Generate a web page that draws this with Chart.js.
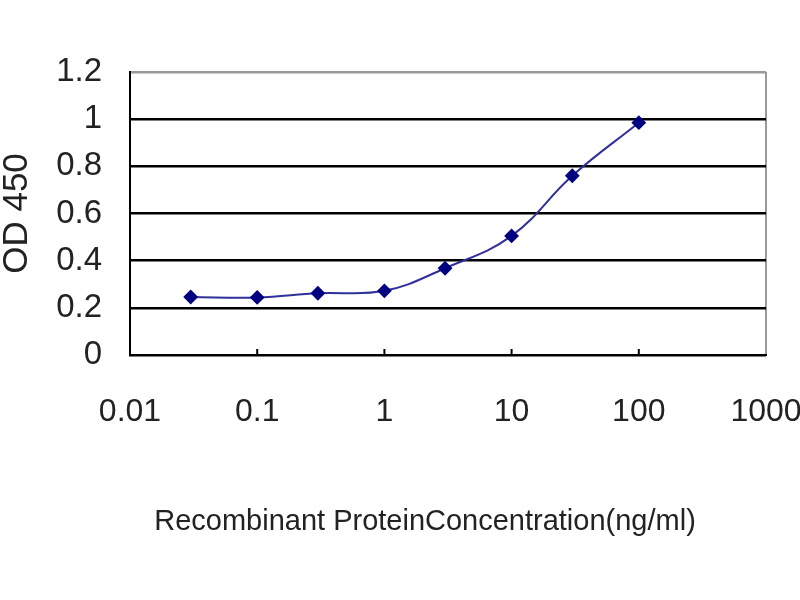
<!DOCTYPE html>
<html>
<head>
<meta charset="utf-8">
<script src="https://cdn.jsdelivr.net/npm/chart.js@4"></script>
<style>
html,body{margin:0;padding:0;background:#fff;}
#wrap{width:800px;height:600px;}
</style>
</head>
<body>
<div id="wrap"><canvas id="c" width="800" height="600"></canvas></div>
<script>
const concentrations = [0.03, 0.1, 0.3, 1, 3, 10, 30, 100];
const odValues = [0.246, 0.244, 0.262, 0.272, 0.368, 0.505, 0.76, 0.985];
const xTickValues = [0.01, 0.1, 1, 10, 100, 1000];
const xTickLabels = ['0.01', '0.1', '1', '10', '100', '1000'];
const yTickValues = [0, 0.2, 0.4, 0.6, 0.8, 1, 1.2];
const yTickLabels = ['0', '0.2', '0.4', '0.6', '0.8', '1', '1.2'];
const xTitle = 'Recombinant ProteinConcentration(ng/ml)';
const yTitle = 'OD 450';

const regular = "'Liberation Sans', Arial, sans-serif";

const extras = {
  id: 'extras',
  afterDraw(chart) {
    const ctx = chart.ctx;
    const xs = chart.scales.x;
    const area = chart.chartArea;
    ctx.save();
    ctx.strokeStyle = '#000';
    ctx.lineWidth = 2;
    xTickValues.forEach(v => {
      if (v <= xs.min || v >= xs.max) return;
      const px = xs.getPixelForValue(v);
      ctx.beginPath();
      ctx.moveTo(px, area.bottom);
      ctx.lineTo(px, area.bottom - 6);
      ctx.stroke();
    });
    ctx.fillStyle = '#222';
    ctx.font = "29px " + regular;
    ctx.textAlign = 'center';
    ctx.textBaseline = 'middle';
    ctx.fillText(xTitle, 425, 522);
    ctx.restore();
  }
};

new Chart(document.getElementById('c'), {
  type: 'scatter',
  data: {
    datasets: [{
      data: concentrations.map((x, i) => ({x: x, y: odValues[i]})),
      showLine: true,
      borderColor: '#30309a',
      borderWidth: 2,
      backgroundColor: '#000080',
      pointStyle: 'rectRot',
      pointRadius: 6,
      pointBackgroundColor: '#000080',
      pointBorderColor: '#000080',
      tension: 0.4
    }]
  },
  options: {
    responsive: false,
    animation: false,
    events: [],
    layout: {padding: {top: 72, right: 0, left: 0, bottom: 0}},
    plugins: {legend: {display: false}, tooltip: {enabled: false}},
    scales: {
      x: {
        type: 'logarithmic',
        min: 0.01,
        max: 1000,
        afterBuildTicks: s => { s.ticks = xTickValues.map(v => ({value: v})); },
        afterFit: s => { s.height = 245; s.paddingRight = 34; s.paddingLeft = 0; },
        ticks: {
          autoSkip: false,
          maxRotation: 0,
          padding: 0,
          color: '#222',
          font: {family: regular, size: 32},
          callback: (v) => { const i = xTickValues.indexOf(v); return i >= 0 ? xTickLabels[i] : ''; }
        },
        grid: {
          drawTicks: true,
          tickLength: 38,
          tickColor: 'rgba(0,0,0,0)',
          lineWidth: 2,
          color: c => (c.tick && c.tick.value === 1000) ? '#9a9a9a' : 'rgba(0,0,0,0)'
        },
        border: {display: true, color: '#000', width: 2}
      },
      y: {
        min: 0,
        max: 1.2,
        afterBuildTicks: s => { s.ticks = yTickValues.map(v => ({value: v})); },
        afterFit: s => { s.width = 130; },
        ticks: {
          autoSkip: false,
          padding: 28,
          color: '#222',
          font: {family: regular, size: 33},
          callback: (v) => { const i = yTickValues.findIndex(t => Math.abs(t - v) < 1e-9); return i >= 0 ? yTickLabels[i] : ''; }
        },
        grid: {
          drawTicks: false,
          lineWidth: 2.5,
          color: c => (c.tick && Math.abs(c.tick.value - 1.2) < 1e-9) ? '#9a9a9a' : '#000'
        },
        border: {display: true, color: '#000', width: 2},
        title: {
          display: true,
          text: yTitle,
          color: '#222',
          padding: 0,
          font: {family: regular, size: 35, lineHeight: 1}
        }
      }
    }
  },
  plugins: [extras]
});
</script>
</body>
</html>
